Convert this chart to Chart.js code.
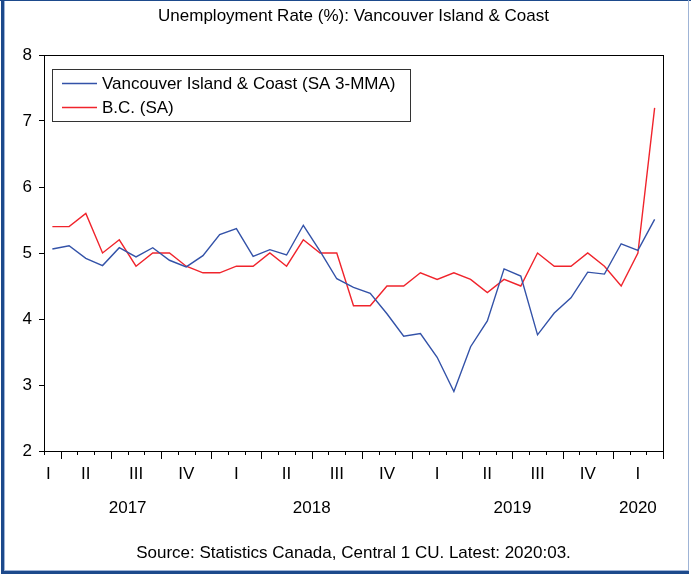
<!DOCTYPE html>
<html>
<head>
<meta charset="utf-8">
<script src="https://cdn.jsdelivr.net/npm/chart.js@4.4.1/dist/chart.umd.min.js"></script>
<style>
    html, body { margin: 0; padding: 0; background: #fff; }
    #wrap { width: 691px; height: 579px; position: relative; }
</style>
</head>
<body>
<div id="wrap"><canvas id="grafico" width="691" height="579"></canvas></div>
<script>
// dados mensais, 2017:03 a 2020:03
var meses = ['2017:03', '2017:04', '2017:05', '2017:06', '2017:07', '2017:08', '2017:09', '2017:10', '2017:11', '2017:12',
    '2018:01', '2018:02', '2018:03', '2018:04', '2018:05', '2018:06', '2018:07', '2018:08', '2018:09', '2018:10', '2018:11', '2018:12',
    '2019:01', '2019:02', '2019:03', '2019:04', '2019:05', '2019:06', '2019:07', '2019:08', '2019:09', '2019:10', '2019:11', '2019:12',
    '2020:01', '2020:02', '2020:03'];

var ilhaCosta = [5.06, 5.11, 4.92, 4.81, 5.08, 4.94, 5.08, 4.89, 4.79, 4.96,
    5.28, 5.37, 4.95, 5.05, 4.97, 5.42, 5.03, 4.61, 4.48, 4.39, 4.08, 3.74,
    3.78, 3.42, 2.90, 3.58, 3.97, 4.76, 4.65, 3.76, 4.09, 4.32, 4.71, 4.68,
    5.14, 5.04, 5.51];

var bc = [5.4, 5.4, 5.6, 5.0, 5.2, 4.8, 5.0, 5.0, 4.8, 4.7,
    4.7, 4.8, 4.8, 5.0, 4.8, 5.2, 5.0, 5.0, 4.2, 4.2, 4.5, 4.5,
    4.7, 4.6, 4.7, 4.6, 4.4, 4.6, 4.5, 5.0, 4.8, 4.8, 5.0, 4.8,
    4.5, 5.0, 7.2];

var trimestres = ['I', 'II', 'III', 'IV'];
var yTicks = [2, 3, 4, 5, 6, 7, 8];

var titulo = 'Unemployment Rate (%): Vancouver Island & Coast';
var fonte = 'Source: Statistics Canada, Central 1 CU. Latest: 2020:03.';

var FONTE = '"Liberation Sans Narrow", "Liberation Sans", Arial, sans-serif';
var AZUL = '#3352a8';
var VERMELHO = '#f0242c';

function fronteira(sx, k) {
    // borda entre a categoria k-1 e k
    if (k <= 0) return sx.left;
    if (k >= meses.length) return sx.right;
    return (sx.getPixelForValue(k - 1) + sx.getPixelForValue(k)) / 2;
}

var decoracao = {
    id: 'decoracao',
    beforeDraw: function (chart) {
        var ctx = chart.ctx;
        ctx.save();
        ctx.fillStyle = '#fff';
        ctx.fillRect(0, 0, chart.width, chart.height);
        ctx.restore();
    },
    afterDraw: function (chart) {
        var ctx = chart.ctx;
        var area = chart.chartArea;
        var sx = chart.scales.x;
        ctx.save();

        // moldura externa
        ctx.fillStyle = '#1d4a8c';
        ctx.fillRect(0, 0, 691, 1);
        ctx.fillRect(1, 0, 3, 574);
        ctx.fillRect(1, 571, 688, 3);
        ctx.fillStyle = '#9fb4d6';
        ctx.fillRect(4, 1, 1, 570);
        ctx.fillRect(5, 570, 683, 1);
        ctx.fillRect(688, 0, 1, 571);

        // caixa do grafico
        ctx.strokeStyle = '#000';
        ctx.lineWidth = 1;
        ctx.strokeRect(Math.round(area.left) + 0.5, Math.round(area.top) + 0.5,
            Math.round(area.right - area.left), Math.round(area.bottom - area.top));

        // marcas do eixo x (mes curto, trimestre longo)
        ctx.beginPath();
        for (var k = 0; k <= meses.length; k++) {
            var xb = Math.round(fronteira(sx, k)) + 0.5;
            var mes = k < meses.length ? parseInt(meses[k].split(':')[1], 10) : 4;
            var len = ((mes - 1) % 3 === 0) ? 8 : 4;
            ctx.moveTo(xb, area.bottom);
            ctx.lineTo(xb, area.bottom + len);
        }
        ctx.stroke();

        ctx.fillStyle = '#000';
        ctx.textAlign = 'center';
        ctx.textBaseline = 'middle';
        ctx.font = '17px ' + FONTE;

        // rotulos de trimestre
        var grupos = [];
        meses.forEach(function (m, i) {
            var p = m.split(':');
            var ano = p[0];
            var q = Math.floor((parseInt(p[1], 10) - 1) / 3);
            var chave = ano + 'Q' + q;
            var g = grupos[grupos.length - 1];
            if (!g || g.chave !== chave) {
                g = { chave: chave, q: q, ini: i, fim: i };
                grupos.push(g);
            } else {
                g.fim = i;
            }
        });
        grupos.forEach(function (g) {
            var a = fronteira(sx, g.ini);
            var b = fronteira(sx, g.fim + 1);
            var txt = trimestres[g.q];
            var meio = (a + b) / 2;
            var w = ctx.measureText(txt).width;
            if (g.fim - g.ini < 2) meio = Math.max(area.left + w / 2 + 2, a + w / 2 + 2);
            ctx.fillText(txt, meio, 474);
        });

        // rotulos de ano
        var anos = [];
        meses.forEach(function (m, i) {
            var ano = m.split(':')[0];
            var g = anos[anos.length - 1];
            if (!g || g.ano !== ano) anos.push({ ano: ano, ini: i, fim: i });
            else g.fim = i;
        });
        anos.forEach(function (g) {
            var a = fronteira(sx, g.ini);
            var b = fronteira(sx, g.fim + 1);
            ctx.fillText(g.ano, (a + b) / 2, 508);
        });

        // titulo e fonte
        ctx.fillText(titulo, (area.left + area.right) / 2, 16);
        ctx.fillText(fonte, (area.left + area.right) / 2, 553);

        // legenda
        var lx = 52.5, ly = 69.5, lw = 358, lh = 52;
        ctx.fillStyle = '#fff';
        ctx.fillRect(lx, ly, lw, lh);
        ctx.strokeStyle = '#333';
        ctx.strokeRect(lx, ly, lw, lh);
        ctx.textAlign = 'left';
        chart.data.datasets.forEach(function (ds, i) {
            var y = 83 + i * 24;
            ctx.strokeStyle = ds.borderColor;
            ctx.lineWidth = 1.3;
            ctx.beginPath();
            ctx.moveTo(62, y + 0.5);
            ctx.lineTo(97, y + 0.5);
            ctx.stroke();
            ctx.fillStyle = '#000';
            ctx.fillText(ds.label, 102, y + 1);
        });

        ctx.restore();
    }
};

var chart = new Chart(document.getElementById('grafico').getContext('2d'), {
    type: 'line',
    data: {
        labels: meses,
        datasets: [
            {
                label: 'Vancouver Island & Coast (SA 3-MMA)',
                data: ilhaCosta,
                borderColor: AZUL,
                borderWidth: 1.4,
                pointRadius: 0,
                tension: 0,
            },
            {
                label: 'B.C. (SA)',
                data: bc,
                borderColor: VERMELHO,
                borderWidth: 1.4,
                pointRadius: 0,
                tension: 0,
            },
        ],
    },
    options: {
        responsive: false,
        animation: false,
        devicePixelRatio: 1,
        layout: { padding: { left: 0, right: 28, top: 55, bottom: 128 } },
        plugins: {
            legend: { display: false },
            title: { display: false },
            tooltip: { enabled: false },
        },
        scales: {
            x: {
                type: 'category',
                offset: true,
                display: false,
            },
            y: {
                min: 2,
                max: 8,
                afterFit: function (s) { s.width = 44; },
                afterBuildTicks: function (s) {
                    s.ticks = yTicks.map(function (v) { return { value: v }; });
                },
                border: { display: true, color: '#000' },
                grid: { drawOnChartArea: false, drawTicks: true, tickLength: 5, color: '#000' },
                ticks: {
                    color: '#000',
                    padding: 7,
                    font: { family: FONTE, size: 17 },
                },
            },
        },
    },
    plugins: [decoracao],
});
</script>
</body>
</html>
